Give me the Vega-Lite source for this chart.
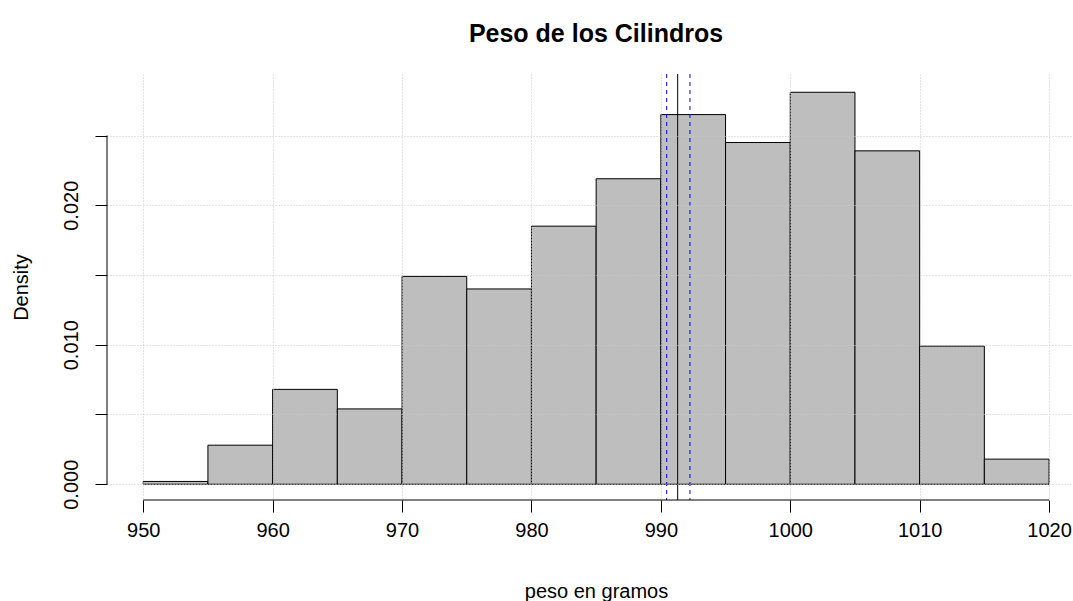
{
  "$schema": "https://vega.github.io/schema/vega-lite/v6.json",
  "width": 966,
  "height": 426,
  "autosize": {"type": "none"},
  "padding": {"left": 107, "top": 74, "right": 0, "bottom": 101},
  "background": "white",
  "config": {"view": {"stroke": null}, "font": "Liberation Sans"},
  "title": {
    "text": "Peso de los Cilindros",
    "fontSize": 25,
    "fontWeight": "bold",
    "font": "Liberation Sans",
    "color": "black",
    "anchor": "middle",
    "baseline": "alphabetic",
    "offset": 7,
    "dx": 6
  },
  "datasets": {
    "bins": [
      {"bin_start": 950, "bin_end": 955, "density": 0.0002},
      {"bin_start": 955, "bin_end": 960, "density": 0.0028},
      {"bin_start": 960, "bin_end": 965, "density": 0.0068},
      {"bin_start": 965, "bin_end": 970, "density": 0.0054},
      {"bin_start": 970, "bin_end": 975, "density": 0.0149},
      {"bin_start": 975, "bin_end": 980, "density": 0.0140},
      {"bin_start": 980, "bin_end": 985, "density": 0.0185},
      {"bin_start": 985, "bin_end": 990, "density": 0.0219},
      {"bin_start": 990, "bin_end": 995, "density": 0.0265},
      {"bin_start": 995, "bin_end": 1000, "density": 0.0245},
      {"bin_start": 1000, "bin_end": 1005, "density": 0.0281},
      {"bin_start": 1005, "bin_end": 1010, "density": 0.0239},
      {"bin_start": 1010, "bin_end": 1015, "density": 0.0099},
      {"bin_start": 1015, "bin_end": 1020, "density": 0.0018}
    ],
    "lines": [
      {"stat": "media", "value": 991.3},
      {"stat": "limite inferior", "value": 990.45},
      {"stat": "limite superior", "value": 992.25}
    ]
  },
  "layer": [
    {
      "data": {"name": "bins"},
      "mark": {"type": "rect", "fill": "#BEBEBE", "stroke": "black", "strokeWidth": 1},
      "encoding": {
        "x": {
          "field": "bin_start",
          "type": "quantitative",
          "scale": {"domain": [947.2, 1021.85], "nice": false, "zero": false},
          "axis": {
            "values": [950, 960, 970, 980, 990, 1000, 1010, 1020],
            "format": "d",
            "domain": false,
            "tickColor": "black",
            "tickSize": 12,
            "tickWidth": 1,
            "labelFontSize": 20,
            "labelColor": "black",
            "labelFont": "Liberation Sans",
            "labelBaseline": "alphabetic",
            "labelPadding": 24,
            "labelFlush": false,
            "labelOverlap": false,
            "grid": true,
            "gridColor": "#C8C8C8",
            "gridDash": [1, 2],
            "gridWidth": 1,
            "zindex": 1,
            "title": "peso en gramos",
            "titleFont": "Liberation Sans",
            "titleFontSize": 20,
            "titleFontWeight": "normal",
            "titleColor": "black",
            "titleBaseline": "alphabetic",
            "titleAlign": "center",
            "titleX": 489,
            "titleY": 97
          }
        },
        "x2": {"field": "bin_end"},
        "y": {
          "field": "density",
          "type": "quantitative",
          "scale": {"domain": [-0.00113, 0.02941], "nice": false, "zero": false},
          "axis": {
            "values": [0, 0.005, 0.01, 0.015, 0.02, 0.025],
            "labelExpr": "round(datum.value * 1000) % 10 == 0 ? format(datum.value, '.3f') : ''",
            "domain": false,
            "tickColor": "black",
            "tickSize": 12,
            "tickWidth": 1,
            "labelFontSize": 20,
            "labelColor": "black",
            "labelFont": "Liberation Sans",
            "labelAngle": 270,
            "labelAlign": "center",
            "labelBaseline": "alphabetic",
            "labelPadding": 18,
            "labelFlush": false,
            "labelOverlap": false,
            "grid": true,
            "gridColor": "#C8C8C8",
            "gridDash": [1, 2],
            "gridWidth": 1,
            "zindex": 1,
            "title": "Density",
            "titleFont": "Liberation Sans",
            "titleFontSize": 20,
            "titleFontWeight": "normal",
            "titleColor": "black",
            "titleAngle": 270,
            "titleAlign": "center",
            "titleBaseline": "alphabetic",
            "titleX": -80,
            "titleY": 213
          }
        },
        "y2": {"datum": 0}
      }
    },
    {
      "data": {"name": "lines"},
      "transform": [{"filter": "datum.stat == 'media'"}],
      "mark": {"type": "rule", "color": "black", "strokeWidth": 1},
      "encoding": {"x": {"field": "value", "type": "quantitative"}}
    },
    {
      "data": {"name": "lines"},
      "transform": [{"filter": "datum.stat != 'media'"}],
      "mark": {"type": "rule", "color": "#0000FF", "strokeDash": [4, 4], "strokeWidth": 1},
      "encoding": {"x": {"field": "value", "type": "quantitative"}}
    },
    {
      "data": {"values": [{"axis": "x"}]},
      "mark": {"type": "rule", "color": "black", "strokeWidth": 1},
      "encoding": {
        "x": {"datum": 950, "type": "quantitative"},
        "x2": {"datum": 1020},
        "y": {"datum": -0.00113, "type": "quantitative"}
      }
    },
    {
      "data": {"values": [{"axis": "y"}]},
      "mark": {"type": "rule", "color": "black", "strokeWidth": 1},
      "encoding": {
        "x": {"datum": 947.2, "type": "quantitative"},
        "y": {"datum": 0, "type": "quantitative"},
        "y2": {"datum": 0.025}
      }
    }
  ]
}
